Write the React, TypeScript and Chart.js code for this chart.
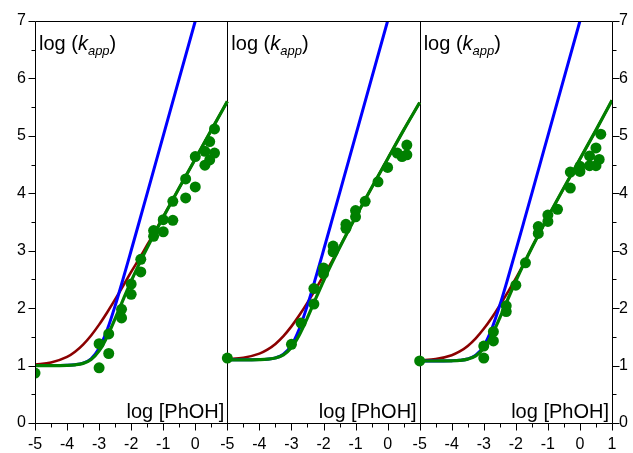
import React, { useEffect, useRef } from 'react';
import { Chart, registerables } from 'chart.js';

Chart.register(...registerables);

const FONT = '"Liberation Sans", Arial, sans-serif';

// axis ranges of each panel
const X_MIN = -5;
const X_MAX = 1;
const Y_MIN = 0;
const Y_MAX = 7;
const X_TICK_LABELS = ['-5', '-4', '-3', '-2', '-1', '0', '1'];
const Y_TICK_LABELS = ['0', '1', '2', '3', '4', '5', '6', '7'];

// x grid of the fitted curves (log [PhOH])
const CURVE_X = [-5, -4.5, -4, -3.75, -3.5, -3.25, -3, -2.75, -2.5, -2.25, -2, -1.75, -1.5, -1.25, -1, -0.5, 0, 0.5, 1];

// panel 1
const P1_BLUE = [1.0, 1.0, 1.004, 1.014, 1.041, 1.119, 1.301, 1.619, 2.041, 2.513, 3.004, 3.5, 4.0, 4.5, 5.0, 6.0, 7.0, 8.0, 9.0];
const P1_GREEN = [1.0, 1.0, 1.004, 1.013, 1.038, 1.106, 1.255, 1.503, 1.818, 2.149, 2.469, 2.77, 3.052, 3.322, 3.584, 4.095, 4.598, 5.1, 5.6];
const P1_RED = [1.018, 1.054, 1.151, 1.241, 1.365, 1.524, 1.713, 1.925, 2.152, 2.388, 2.63, 2.86, 3.1, 3.34, 3.594, 4.095, 4.598, 5.1, 5.6];
const P1_PX = [-5, -3, -3, -2.7, -2.7, -2.3, -2.3, -2, -2, -1.7, -1.7, -1.3, -1.3, -1, -1, -0.7, -0.7, -0.3, -0.3, 0, 0, 0.3, 0.3, 0.45, 0.45, 0.6, 0.6];
const P1_PY = [0.87, 1.38, 0.96, 1.55, 1.21, 1.98, 1.83, 2.42, 2.24, 2.85, 2.63, 3.35, 3.25, 3.54, 3.33, 3.86, 3.53, 4.25, 3.92, 4.64, 4.11, 4.73, 4.49, 4.9, 4.58, 5.12, 4.7];

// panel 2
const P2_BLUE = [1.1, 1.1, 1.104, 1.111, 1.134, 1.198, 1.354, 1.645, 2.052, 2.517, 3.005, 3.501, 4.0, 4.5, 5.0, 6.0, 7.0, 8.0, 9.0];
const P2_GREEN = [1.1, 1.1, 1.104, 1.111, 1.131, 1.187, 1.314, 1.537, 1.834, 2.157, 2.473, 2.771, 3.053, 3.323, 3.585, 4.095, 4.598, 5.1, 5.58];
const P2_RED = [1.112, 1.137, 1.208, 1.277, 1.377, 1.513, 1.682, 1.879, 2.096, 2.327, 2.565, 2.8, 3.058, 3.323, 3.585, 4.095, 4.598, 5.1, 5.58];
const P2_PX = [-5, -3, -2.7, -2.3, -2.3, -2, -2, -1.7, -1.7, -1.3, -1.3, -1, -1, -0.7, -0.3, 0, 0.3, 0.45, 0.6, 0.6];
const P2_PY = [1.13, 1.37, 1.74, 2.34, 2.07, 2.7, 2.6, 3.08, 2.98, 3.46, 3.39, 3.7, 3.59, 3.86, 4.2, 4.45, 4.7, 4.64, 4.84, 4.67];

// panel 3
const P3_BLUE = [1.079, 1.08, 1.083, 1.091, 1.114, 1.181, 1.342, 1.64, 2.049, 2.516, 3.005, 3.501, 4.0, 4.5, 5.0, 6.0, 7.0, 8.0, 9.0];
const P3_GREEN = [1.079, 1.08, 1.083, 1.09, 1.112, 1.169, 1.301, 1.53, 1.831, 2.155, 2.472, 2.771, 3.053, 3.323, 3.585, 4.095, 4.598, 5.1, 5.62];
const P3_RED = [1.091, 1.114, 1.181, 1.246, 1.342, 1.474, 1.64, 1.834, 2.049, 2.278, 2.516, 2.775, 3.058, 3.323, 3.585, 4.095, 4.598, 5.1, 5.62];
const P3_PX = [-5, -3, -3, -2.7, -2.7, -2.3, -2.3, -2, -1.7, -1.3, -1.3, -1, -1, -0.7, -0.3, -0.3, 0, 0, 0.3, 0.3, 0.5, 0.5, 0.6, 0.65];
const P3_PY = [1.08, 1.34, 1.13, 1.59, 1.43, 2.04, 1.94, 2.4, 2.79, 3.42, 3.3, 3.62, 3.51, 3.72, 4.37, 4.09, 4.47, 4.38, 4.65, 4.48, 4.79, 4.48, 4.59, 5.03];

const GREEN = '#008000';
const BLUE = '#0000ff';
const RED = '#8b0000';

const PANELS = [
  { px: P1_PX, py: P1_PY, blue: P1_BLUE, green: P1_GREEN, red: P1_RED },
  { px: P2_PX, py: P2_PY, blue: P2_BLUE, green: P2_GREEN, red: P2_RED },
  { px: P3_PX, py: P3_PY, blue: P3_BLUE, green: P3_GREEN, red: P3_RED },
];

const SPAN = X_MAX - X_MIN;
const shift = (i: number, x: number) => x - X_MIN + SPAN * i;
const toXY = (xs: number[], ys: number[], i: number) => xs.map((x, k) => ({ x: shift(i, x), y: ys[k] }));

const overlay = {
  id: 'overlay',
  beforeDatasetsDraw(chart: any) {
    const { ctx, chartArea: a, scales } = chart;
    const xs = scales.x;
    ctx.save();
    ctx.strokeStyle = '#000';
    ctx.lineWidth = 1;
    ctx.beginPath();
    for (let i = 1; i < PANELS.length; i++) {
      const p = Math.round(xs.getPixelForValue(SPAN * i)) + 0.5;
      ctx.moveTo(p, a.top);
      ctx.lineTo(p, a.bottom);
    }
    ctx.stroke();
    ctx.restore();
  },
  afterDatasetsDraw(chart: any) {
    const { ctx, chartArea: a, scales } = chart;
    const xs = scales.x;
    const ys = scales.y;
    ctx.save();
    ctx.strokeStyle = '#000';
    ctx.lineWidth = 1;
    const L = Math.round(a.left) + 0.5;
    const R = Math.round(a.right) + 0.5;
    const T = Math.round(a.top) + 0.5;
    const B = Math.round(a.bottom) + 0.5;
    ctx.beginPath();
    ctx.moveTo(L, B);
    ctx.lineTo(L, T);
    ctx.lineTo(R, T);
    ctx.lineTo(R, B);
    ctx.lineTo(L, B);
    // bottom ticks
    const nx = SPAN * PANELS.length;
    for (let k = 0; k <= nx * 2; k++) {
      const v = k / 2;
      const len = k % 2 === 0 ? 7 : 4;
      const p = Math.round(xs.getPixelForValue(v)) + 0.5;
      ctx.moveTo(p, B);
      ctx.lineTo(p, B + len);
    }
    // left and right ticks
    for (let k = 0; k <= (Y_MAX - Y_MIN) * 2; k++) {
      const v = Y_MIN + k / 2;
      const len = k % 2 === 0 ? 7 : 4;
      const p = Math.round(ys.getPixelForValue(v)) + 0.5;
      ctx.moveTo(L - len, p);
      ctx.lineTo(L, p);
      ctx.moveTo(R, p);
      ctx.lineTo(R + len, p);
    }
    ctx.stroke();

    // panel texts
    ctx.fillStyle = '#000';
    ctx.textBaseline = 'alphabetic';
    for (let i = 0; i < PANELS.length; i++) {
      const left = xs.getPixelForValue(SPAN * i);
      const right = xs.getPixelForValue(SPAN * (i + 1));
      let cx = left + 4;
      const by = a.top + 29;
      ctx.textAlign = 'left';
      ctx.font = `20px ${FONT}`;
      ctx.fillText('log (', cx, by);
      cx += ctx.measureText('log (').width;
      ctx.font = `italic 20px ${FONT}`;
      ctx.fillText('k', cx, by);
      cx += ctx.measureText('k').width;
      ctx.font = `italic 13px ${FONT}`;
      ctx.fillText('app', cx, by + 5);
      cx += ctx.measureText('app').width;
      ctx.font = `20px ${FONT}`;
      ctx.fillText(')', cx, by);
      ctx.textAlign = 'right';
      ctx.fillText('log [PhOH]', right - 3, a.bottom - 5);
    }
    ctx.restore();
  },
};

export default function App() {
  const ref = useRef<HTMLCanvasElement | null>(null);

  useEffect(() => {
    if (!ref.current) return;
    const datasets: any[] = [];
    PANELS.forEach((p, i) => {
      datasets.push({
        data: toXY(p.px, p.py, i),
        showLine: false,
        pointRadius: 5.5,
        pointBackgroundColor: GREEN,
        pointBorderWidth: 0,
        clip: 0,
      });
    });
    const curve = (key: 'green' | 'blue' | 'red', color: string, width: number) => {
      PANELS.forEach((p, i) => {
        datasets.push({
          data: toXY(CURVE_X, p[key], i),
          showLine: true,
          borderColor: color,
          borderWidth: width,
          pointRadius: 0,
          cubicInterpolationMode: 'monotone',
          fill: false,
          clip: 0,
        });
      });
    };
    curve('green', GREEN, 3.2);
    curve('blue', BLUE, 3);
    curve('red', RED, 2.6);

    const tickFont = { family: FONT, size: 16 };
    const yTicks = {
      stepSize: 1,
      color: '#000',
      font: tickFont,
      callback: (v: any) => Y_TICK_LABELS[Math.round(v - Y_MIN)] ?? '',
    };

    const chart = new Chart(ref.current, {
      type: 'scatter',
      data: { datasets },
      options: {
        animation: false,
        responsive: true,
        maintainAspectRatio: false,
        layout: { padding: { top: 21, left: 0, right: 0, bottom: 0 } },
        plugins: { legend: { display: false }, tooltip: { enabled: false } },
        events: [],
        scales: {
          x: {
            type: 'linear',
            position: 'bottom',
            min: 0,
            max: SPAN * PANELS.length,
            grid: { display: false, drawTicks: false },
            border: { display: false },
            ticks: {
              stepSize: 1,
              autoSkip: false,
              maxRotation: 0,
              padding: 12,
              color: '#000',
              font: tickFont,
              callback: (v: any) => {
                const n = Math.round(v);
                if (n === SPAN * PANELS.length) return X_TICK_LABELS[SPAN];
                return X_TICK_LABELS[n % SPAN];
              },
            },
            afterFit: (s: any) => {
              s.height = 30;
            },
          },
          y: {
            type: 'linear',
            position: 'left',
            min: Y_MIN,
            max: Y_MAX,
            grid: { display: false, drawTicks: false },
            border: { display: false },
            ticks: { ...yTicks, padding: 9 },
            afterFit: (s: any) => {
              s.width = 35;
            },
          },
          y2: {
            type: 'linear',
            position: 'right',
            display: true,
            min: Y_MIN,
            max: Y_MAX,
            grid: { display: false, drawTicks: false },
            border: { display: false },
            ticks: { ...yTicks, padding: 7 },
            afterFit: (s: any) => {
              s.width = 21;
            },
          },
        },
      } as any,
      plugins: [overlay],
    });
    return () => chart.destroy();
  }, []);

  return (
    <div style={{ position: 'fixed', left: 0, top: 0, width: 633, height: 453, background: '#fff' }}>
      <canvas ref={ref} />
    </div>
  );
}
